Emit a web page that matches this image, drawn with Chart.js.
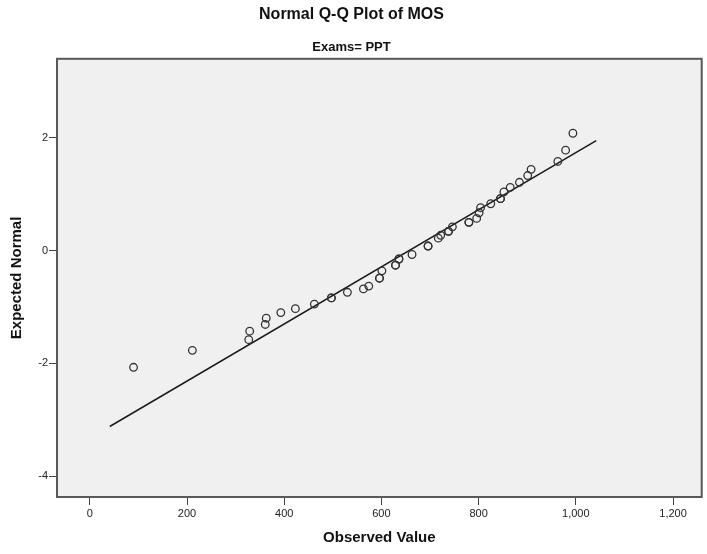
<!DOCTYPE html>
<html>
<head>
<meta charset="utf-8">
<script src="https://cdn.jsdelivr.net/npm/chart.js@4.4.1/dist/chart.umd.min.js"></script>
<style>
  html, body { margin: 0; padding: 0; background: #fff; }
  #wrap { width: 707px; height: 554px; }
</style>
</head>
<body>
<div id="wrap"><canvas id="qq"></canvas></div>
<script>
// values (ties appear twice, like the darker circles)
const observed = [90, 211, 327, 329, 361, 363, 393, 423, 462, 497, 497, 530, 563, 574,
   596, 596, 601, 629, 629, 636, 636, 663, 696, 696, 717, 722, 738, 738, 746,
   780, 780, 796, 801, 804, 825, 845, 845, 852, 865, 884, 901, 908, 963, 979, 994]
const expected = [-2.07, -1.77, -1.58, -1.43, -1.31, -1.20, -1.10, -1.03, -0.95, -0.84, -0.84, -0.74, -0.68, -0.63,
   -0.49, -0.49, -0.36, -0.26, -0.26, -0.15, -0.15, -0.07, 0.08, 0.08, 0.22, 0.27, 0.34, 0.34, 0.42,
   0.50, 0.50, 0.57, 0.67, 0.76, 0.83, 0.92, 0.92, 1.04, 1.12, 1.21, 1.33, 1.44, 1.58, 1.78, 2.08]

// reference line
const lineObserved = [41, 1042]
const lineExpected = [-3.12, 1.95]

const xTicks = [0, 200, 400, 600, 800, 1000, 1200]
const yTicks = [-4, -2, 0, 2]

const font = "'Liberation Sans', Arial, sans-serif"
const ink = '#222'

const frame = {
   id: 'frame',
   beforeDraw(chart) {
      const { ctx, chartArea: a } = chart
      ctx.save()
      ctx.fillStyle = '#f0f0f0'
      ctx.fillRect(a.left, a.top, a.right - a.left, a.bottom - a.top)
      ctx.restore()
   },
   afterDraw(chart) {
      const { ctx, chartArea: a } = chart
      ctx.save()
      ctx.strokeStyle = '#585858'
      ctx.lineWidth = 2
      ctx.strokeRect(a.left, a.top, a.right - a.left, a.bottom - a.top)
      ctx.restore()
   }
}

new Chart(document.getElementById('qq'), {
   type: 'scatter',
   data: {
      datasets: [{
         label: 'Observed',
         data: observed.map((v, i) => ({ x: v, y: expected[i] })),
         pointStyle: 'circle',
         pointRadius: 3.8,
         pointBorderWidth: 1.3,
         pointBorderColor: '#333',
         pointBackgroundColor: 'rgba(0,0,0,0)',
         showLine: false
      }, {
         label: 'Line',
         data: lineObserved.map((v, i) => ({ x: v, y: lineExpected[i] })),
         showLine: true,
         borderColor: '#1a1a1a',
         borderWidth: 1.5,
         pointRadius: 0
      }]
   },
   options: {
      responsive: true,
      maintainAspectRatio: false,
      animation: false,
      layout: { padding: { left: 0, right: 4, top: 0, bottom: 0 } },
      scales: {
         x: {
            type: 'linear',
            min: -67.5,
            max: 1259,
            afterBuildTicks: scale => { scale.ticks = xTicks.map(v => ({ value: v })) },
            afterFit: scale => { scale.height = 57 },
            border: { display: false },
            grid: { drawOnChartArea: false, drawTicks: true, tickLength: 8, tickColor: '#444', lineWidth: 1 },
            ticks: {
               padding: 2,
               color: ink,
               font: { family: font, size: 11 },
               maxRotation: 0,
               callback: v => v.toLocaleString('en-US')
            },
            title: {
               display: true,
               text: 'Observed Value',
               color: '#111',
               font: { family: font, size: 15, weight: 'bold' },
               padding: { top: 0, bottom: 7 }
            }
         },
         y: {
            type: 'linear',
            min: -4.37,
            max: 3.40,
            afterBuildTicks: scale => { scale.ticks = yTicks.map(v => ({ value: v })) },
            afterFit: scale => { scale.width = 57 },
            border: { display: false },
            grid: { drawOnChartArea: false, drawTicks: true, tickLength: 8, tickColor: '#444', lineWidth: 1 },
            ticks: {
               padding: 1,
               color: ink,
               font: { family: font, size: 11 }
            },
            title: {
               display: true,
               text: 'Expected Normal',
               color: '#111',
               font: { family: font, size: 15, weight: 'bold' },
               padding: { top: 8, bottom: 0 }
            }
         }
      },
      plugins: {
         legend: { display: false },
         tooltip: { enabled: false },
         title: {
            display: true,
            text: 'Normal Q-Q Plot of MOS',
            color: '#111',
            font: { family: font, size: 16, weight: 'bold' },
            padding: { top: 5, bottom: 15 }
         },
         subtitle: {
            display: true,
            text: 'Exams= PPT',
            color: '#111',
            font: { family: font, size: 13, weight: 'bold' },
            padding: { top: 0, bottom: 4 }
         }
      }
   },
   plugins: [frame]
})
</script>
</body>
</html>
